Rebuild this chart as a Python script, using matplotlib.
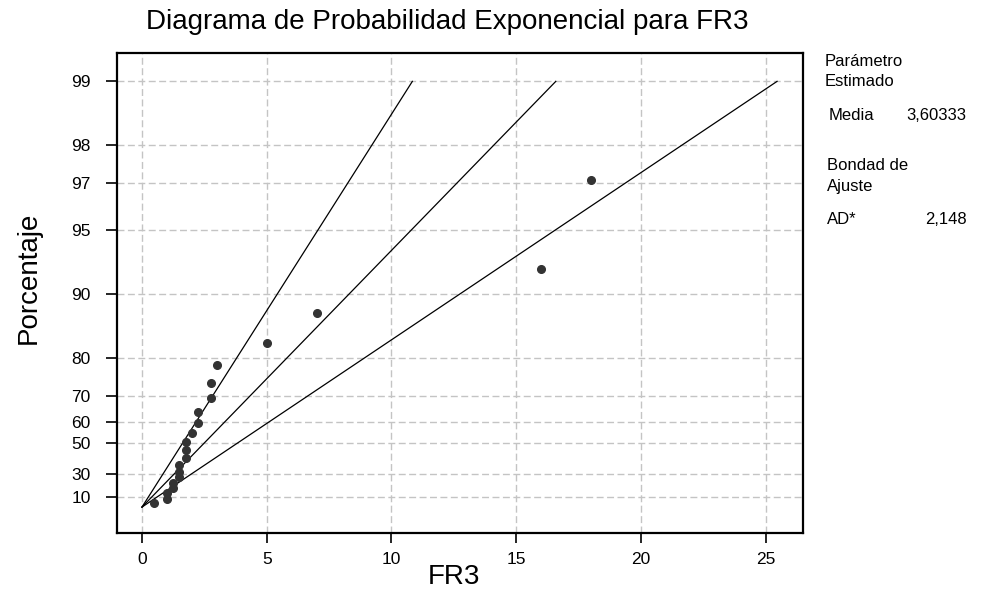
import numpy as np
import matplotlib
matplotlib.use("Agg")
import matplotlib.pyplot as plt

plt.rcParams['font.family'] = ['Liberation Sans', 'DejaVu Sans']

# data (FR3 value, plotted percentage)
fr3 = [0.5, 1.0, 1.0, 1.25, 1.25, 1.5, 1.5, 1.5, 1.75, 1.75, 1.75,
       2.0, 2.25, 2.25, 2.75, 2.75, 3.0, 5.0, 7.0, 16.0, 18.0]
pct = [3.9, 8.3, 13.8, 18.3, 22.6, 28.0, 31.8, 36.5, 41.0, 46.1, 50.7,
       55.0, 59.8, 64.4, 69.2, 73.8, 78.4, 83.1, 87.7, 92.4, 97.1]

# fitted line and confidence bounds (FR3 at 0% and 99%)
line_pct = [0, 99]
fit_x = [0, 16.59]
lower_x = [0, 10.84]
upper_x = [0, 25.46]

yticks = [10, 30, 50, 60, 70, 80, 90, 95, 97, 98, 99]
xticks = [0, 5, 10, 15, 20, 25]


def fwd(p):
    with np.errstate(all='ignore'):
        return -np.log(1 - np.asarray(p) / 100.0)


def inv(v):
    return 100.0 * (1 - np.exp(-np.asarray(v)))


W, H = 981, 596
fig = plt.figure(figsize=(W/100, H/100), dpi=100)
ax = fig.add_axes([117/W, 1 - 533/H, (803-117)/W, (533-53)/H])

ax.set_yscale('function', functions=(fwd, inv))

for xs in (lower_x, fit_x, upper_x):
    ax.plot(xs, line_pct, color='black', lw=0.9, zorder=3)
ax.plot(fr3, pct, 'o', color='#333333', ms=5.5, mec='#333333', zorder=4)

ax.set_xlim(-1.0, 26.5)
ax.set_ylim(inv(-0.28), inv(4.912))
ax.set_xticks(xticks)
ax.set_yticks(yticks)
ax.set_yticklabels([str(t) for t in yticks])
ax.minorticks_off()

ax.grid(True, color='#c4c4c4', lw=1, ls=(0, (5, 2.5)))
ax.set_axisbelow(True)
for s in ax.spines.values():
    s.set_linewidth(1.6)
ax.tick_params(direction='out', width=1.2, labelsize=12.5)
ax.tick_params(axis='y', length=8, pad=11)
ax.tick_params(axis='x', length=7, pad=7)

def ftext(x, y, s, size=12, **kw):
    fig.text(x/W, 1 - y/H, s, va='center', fontsize=size, **kw)

ftext(447, 22, 'Diagrama de Probabilidad Exponencial para FR3', size=20, ha='center')
ftext(454, 577, 'FR3', size=20, ha='center')
ftext(29, 278, 'Porcentaje', size=20, ha='center', rotation=90)

# side panel
ftext(825, 61, 'Parámetro')
ftext(825, 82, 'Estimado')
ftext(829, 115, 'Media')
ftext(966, 115, '3,60333', ha='right')
ftext(827, 165, 'Bondad de')
ftext(827, 186, 'Ajuste')
ftext(827, 219, 'AD*')
ftext(967, 219, '2,148', ha='right')

fig.savefig('out.png', dpi=100)
